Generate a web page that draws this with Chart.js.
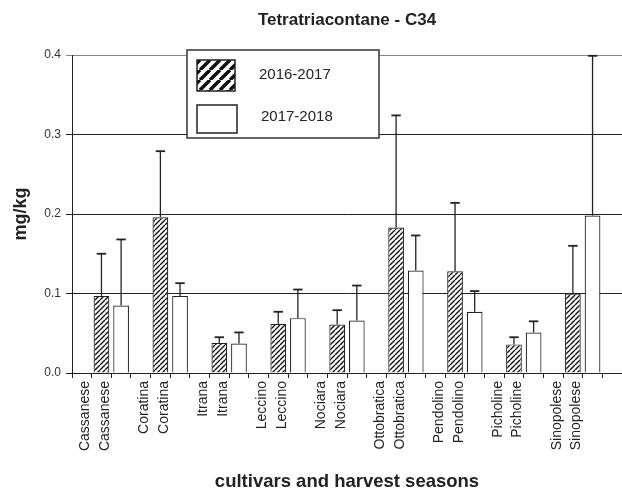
<!DOCTYPE html>
<html><head><meta charset="utf-8">
<script src="https://cdn.jsdelivr.net/npm/chart.js@4"></script>
<style>html,body{margin:0;padding:0;background:#fff;}canvas{display:block;}</style>
</head><body>
<canvas id="c" width="622" height="493"></canvas>
<script>
const cultivars = ['Cassanese','Coratina','Itrana','Leccino','Nociara','Ottobratica','Pendolino','Picholine','Sinopolese'];
const seasons = ['2016-2017','2017-2018'];
const mean1617 = [0.097,0.196,0.038,0.062,0.061,0.183,0.128,0.036,0.100];
const sd1617   = [0.053,0.083,0.007,0.015,0.018,0.141,0.086,0.009,0.060];
const mean1718 = [0.085,0.097,0.037,0.069,0.066,0.129,0.077,0.051,0.198];
const sd1718   = [0.083,0.016,0.014,0.036,0.044,0.044,0.026,0.014,0.201];
const yTicks = [0,0.1,0.2,0.3,0.4];
const chartTitle = 'Tetratriacontane - C34';
const yTitle = 'mg/kg';
const xTitle = 'cultivars and harvest seasons';

// slot layout: gap, season 1, season 2 for each cultivar, plus trailing gap
const labels = [], d1 = [], d2 = [], e1 = [], e2 = [];
cultivars.forEach((c, i) => {
  labels.push('', c, c);
  d1.push(null, mean1617[i], null);
  d2.push(null, null, mean1718[i]);
  e1.push(null, sd1617[i], null);
  e2.push(null, null, sd1718[i]);
});
labels.push(''); d1.push(null); d2.push(null); e1.push(null); e2.push(null);

Chart.defaults.font.family = "'Liberation Sans', Arial, sans-serif";
const canvas = document.getElementById('c');
const mainCtx = canvas.getContext('2d');
function hatch(p, lw) {
  const cv = document.createElement('canvas'); cv.width = p; cv.height = p;
  const g = cv.getContext('2d');
  g.fillStyle = '#fff'; g.fillRect(0, 0, p, p);
  g.strokeStyle = '#111'; g.lineWidth = lw; g.beginPath();
  for (let k = -1; k <= 1; k++) { g.moveTo(k * p, p); g.lineTo(k * p + p, 0); }
  g.stroke();
  return mainCtx.createPattern(cv, 'repeat');
}
const barHatch = hatch(5, 1.4);
const legendHatch = hatch(10, 3.5);

const errorBars = {
  id: 'errorBars',
  afterDatasetsDraw(chart) {
    const ctx = chart.ctx, y = chart.scales.y;
    chart.data.datasets.forEach((ds, di) => {
      const meta = chart.getDatasetMeta(di);
      meta.data.forEach((bar, i) => {
        const v = ds.data[i], e = ds.errors[i];
        if (v == null || e == null) return;
        const yt = y.getPixelForValue(v + e), yb = y.getPixelForValue(v);
        const half = bar.width * 0.3;
        ctx.save(); ctx.strokeStyle = '#222'; ctx.lineWidth = 1.3;
        ctx.beginPath(); ctx.moveTo(bar.x, yb); ctx.lineTo(bar.x, yt); ctx.stroke();
        ctx.lineWidth = 1.8;
        ctx.beginPath(); ctx.moveTo(bar.x - half, yt); ctx.lineTo(bar.x + half, yt); ctx.stroke();
        ctx.restore();
      });
    });
  }
};

const boxLegend = {
  id: 'boxLegend',
  afterDraw(chart) {
    const ctx = chart.ctx, ca = chart.chartArea;
    const L = ca.left + 115, T = ca.top - 5, W = 192, H = 88;
    ctx.save();
    ctx.fillStyle = '#fff'; ctx.fillRect(L, T, W, H);
    ctx.strokeStyle = '#333'; ctx.lineWidth = 1.5; ctx.strokeRect(L, T, W, H);
    ctx.fillStyle = legendHatch; ctx.fillRect(L + 10, T + 10, 38, 31);
    ctx.strokeStyle = '#222'; ctx.lineWidth = 1.5; ctx.strokeRect(L + 10, T + 10, 38, 31);
    ctx.fillStyle = '#fff'; ctx.fillRect(L + 10, T + 55, 40, 28);
    ctx.strokeRect(L + 10, T + 55, 40, 28);
    ctx.fillStyle = '#222'; ctx.font = "15px 'Liberation Sans', Arial, sans-serif";
    ctx.textBaseline = 'middle'; ctx.textAlign = 'left';
    ctx.fillText(seasons[0], L + 72, T + 25);
    ctx.fillText(seasons[1], L + 74, T + 67);
    ctx.restore();
  }
};

new Chart(canvas, {
  type: 'bar',
  data: {
    labels: labels,
    datasets: [
      { label: seasons[0], data: d1, errors: e1, backgroundColor: barHatch, borderColor: '#222', borderWidth: 1.2, grouped: false, barPercentage: 0.8, categoryPercentage: 1 },
      { label: seasons[1], data: d2, errors: e2, backgroundColor: '#fff', borderColor: '#222', borderWidth: 1.2, grouped: false, barPercentage: 0.8, categoryPercentage: 1 }
    ]
  },
  options: {
    responsive: false,
    animation: false,
    devicePixelRatio: 1,
    layout: { padding: { left: 0, right: -3, top: 0, bottom: 0 } },
    plugins: {
      legend: { display: false },
      tooltip: { enabled: false },
      title: { display: true, fullSize: false, text: chartTitle, color: '#222', font: { size: 17, weight: 'bold' }, padding: { top: 10, bottom: 24.6 } }
    },
    scales: {
      x: {
        ticks: { autoSkip: false, maxRotation: 90, minRotation: 90, font: { size: 14 }, color: '#222', padding: 3, labelOffset: -16 },
        grid: { drawOnChartArea: false, tickLength: 5, color: '#222', offset: true },
        border: { color: '#222', width: 1 },
        title: { display: true, text: xTitle, color: '#222', font: { size: 18.5, weight: 'bold' }, padding: { top: 0, bottom: 0 } },
        afterFit(s) { s.height = 120; s.paddingLeft = 0; s.paddingRight = 0; }
      },
      y: {
        min: 0, max: 0.4,
        afterBuildTicks(s) { s.ticks = yTicks.map(v => ({ value: v })); },
        ticks: { callback: v => Number(v).toFixed(1), font: { size: 12 }, color: '#333', padding: 5 },
        grid: { color: c => (c.tick && c.tick.value === 0.4) ? '#888' : '#222', lineWidth: 1, tickLength: 6 },
        border: { color: '#222', width: 1 },
        title: { display: true, text: yTitle, color: '#222', font: { size: 18, weight: 'bold' }, padding: { top: 10, bottom: 0 } },
        afterFit(s) { s.width = 72; }
      }
    }
  },
  plugins: [errorBars, boxLegend]
});
</script>
</body></html>
